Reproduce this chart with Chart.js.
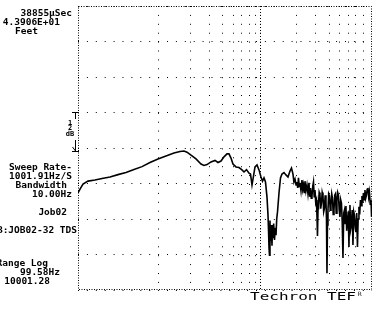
<!DOCTYPE html>
<html>
<head>
<meta charset="utf-8">
<script src="https://cdn.jsdelivr.net/npm/chart.js@4/dist/chart.umd.min.js"></script>
<style>
  html, body { margin: 0; padding: 0; background: #fff; }
</style>
</head>
<body>
<canvas id="tefChart" width="381" height="309"></canvas>
<script>
// Sweep frequency (Hz) and measured level (dB)
const freqHz = [
    99.6, 102.8, 107.7, 116.5, 130.0, 145.1, 164.5, 186.4, 211.3, 239.6,
    271.6, 307.8, 348.9, 395.6, 448.4, 493.0, 524.8, 550.1, 585.7, 633.3,
    685.0, 717.9, 752.5, 801.2, 853.0, 894.1, 937.2, 982.4, 1029.7, 1062.5,
    1096.4, 1131.2, 1185.7, 1242.9, 1302.8, 1344.3, 1398.1, 1454.1, 1488.6, 1524.1,
    1560.2, 1597.4, 1648.2, 1700.7, 1754.8, 1796.5, 1839.2, 1883.1, 1927.8, 1958.2,
    1975, 1989.2, 2004.9, 2020, 2036.5, 2060, 2084.9, 2100, 2117.9, 2140,
    2168.5, 2195, 2220.0, 2245, 2272.8, 2326.8, 2381.9, 2438.5, 2516.2, 2596.5,
    2679.4, 2764.8, 2830.5, 2897.7, 2940, 2990.1, 3040, 3085.3, 3120, 3158.5,
    3195, 3233.6, 3285, 3336.6, 3375, 3416.0, 3455, 3497.2, 3550, 3608.7,
    3665, 3723.8, 3765, 3812.2, 3860, 3902.8, 3950, 3995.6, 4040, 4090.6,
    4140, 4187.8, 4220, 4254.1, 4290, 4321.4, 4370, 4424.1, 4475, 4529.3,
    4580, 4636.9, 4690, 4747.1, 4800, 4860.1, 4900, 4937.0, 4975, 5015.0,
    5070, 5134.3, 5195, 5256.3, 5320, 5381.3, 5445, 5509.2, 5575, 5640.2,
    5705, 5774.3, 5840, 5911.5, 5980, 6052.1, 6120, 6196.0, 6270, 6343.2,
    6420, 6494.0, 6570, 6648.5, 6725, 6806.5, 6890, 6968.3, 7020, 7078.6,
    7160, 7246.9, 7330, 7419.2, 7510, 7595.6, 7690, 7776.4, 7870, 7961.2,
    8050, 8150.5, 8245, 8344.5, 8440, 8542.9, 8645, 8746.0, 8850, 8954.0,
    9060, 9166.8, 9275, 9384.8, 9495, 9608.3, 9725, 9845.4, 9930, 10001
];
const levelDb = [
    32.8, 34.1, 35.8, 36.8, 37.2, 37.7, 38.2, 39.0, 39.7, 40.7,
    41.7, 43.1, 44.3, 45.3, 46.3, 46.8, 47.0, 46.6, 45.6, 44.3,
    42.6, 42.1, 42.4, 43.3, 43.8, 43.1, 43.6, 45.0, 46.0, 46.0,
    44.6, 42.6, 41.6, 41.4, 40.6, 39.9, 40.7, 39.5, 39.2, 35.5,
    38.5, 41.6, 42.3, 40.6, 38.2, 36.8, 37.9, 36.5, 31.4, 25.4,
    20.0, 14.5, 11.8, 23.5, 16.5, 22.0, 15.0, 21.5, 17.5, 22.5,
    16.9, 21.0, 18.5, 24.0, 26.4, 32.8, 37.9, 39.2, 39.7, 38.9,
    38.2, 40.2, 41.2, 39.2, 36.5, 37.5, 35.5, 36.5, 34.5, 37.9,
    35.0, 36.2, 33.5, 37.2, 34.0, 35.5, 33.0, 36.8, 33.5, 35.5,
    32.5, 36.2, 31.5, 34.5, 31.0, 31.8, 35.0, 36.5, 31.5, 33.8,
    29.5, 30.4, 25.0, 18.3, 27.5, 28.7, 33.0, 32.1, 27.5, 29.4,
    33.0, 31.8, 26.5, 27.7, 32.0, 29.7, 24.0, 5.7, 22.0, 27.0,
    32.5, 31.8, 27.0, 28.7, 32.5, 31.1, 25.5, 27.0, 32.0, 32.5,
    26.0, 30.4, 33.0, 32.1, 27.0, 24.7, 30.5, 29.4, 23.0, 10.8,
    26.0, 27.0, 22.5, 28.4, 20.0, 23.0, 26.5, 14.5, 24.0, 28.7,
    20.5, 22.0, 27.0, 15.2, 26.5, 25.4, 21.0, 19.6, 26.0, 14.5,
    24.0, 28.1, 25.5, 30.4, 28.5, 31.8, 29.5, 32.8, 30.5, 33.8,
    31.0, 32.1, 34.0, 34.5, 31.5, 33.1, 29.0, 30.4, 25.0, 26.4
];

// Vertical grid lines (Hz) and horizontal grid lines (dB)
const gridFreqs = [350, 585, 780, 960, 1140, 1300, 1455, 1600, 1730, 3040, 4140, 5120, 5990, 6900, 7780, 8730];
const markerFreq = 1730;
const levelTicks = [0, 12, 24, 36, 48, 60, 72, 84, 96];

// Frame, marker line and the texts of the plot
const tefPlugin = {
    id: 'tefFrame',
    beforeDatasetsDraw(chart) {
        const ctx = chart.ctx;
        const a = chart.chartArea;
        ctx.save();
        ctx.strokeStyle = '#000';
        ctx.lineWidth = 1;
        ctx.setLineDash([1, 1.5]);
        ctx.strokeRect(a.left + 0.5, a.top + 0.5, a.right - a.left - 1, a.bottom - a.top - 1);
        // denser dotted line
        const mx = Math.round(chart.scales.x.getPixelForValue(markerFreq)) + 0.5;
        ctx.setLineDash([1, 2]);
        ctx.beginPath();
        ctx.moveTo(mx, a.top);
        ctx.lineTo(mx, a.bottom);
        ctx.stroke();
        ctx.restore();
    },
    afterDraw(chart) {
        const ctx = chart.ctx;
        ctx.save();
        ctx.fillStyle = '#000';
        ctx.font = 'bold 9.5px "DejaVu Sans Mono"';
        ctx.textBaseline = 'middle';
        ctx.textAlign = 'right';
        ctx.fillText('38855\u00b5Sec', 72, 14);
        ctx.fillText('4.3906E+01', 60, 23);
        ctx.textAlign = 'left';
        ctx.fillText('Feet', 15, 32);
        ctx.textAlign = 'right';
        ctx.fillText('Sweep Rate-', 72, 168);
        ctx.fillText('1001.91Hz/S', 72, 177);
        ctx.fillText('Bandwidth', 67, 186);
        ctx.fillText('10.00Hz', 72, 195);
        ctx.fillText('Job02', 67, 213);
        ctx.fillText('B:JOB02-32 TDS', 77, 231);
        ctx.fillText('Range Log', 48, 264);
        ctx.fillText('99.58Hz', 60, 273);
        ctx.fillText('10001.28', 50, 282);

        // 12 dB scale marker
        ctx.strokeStyle = '#000';
        ctx.lineWidth = 1;
        ctx.beginPath();
        ctx.moveTo(72, 112.5); ctx.lineTo(79, 112.5);
        ctx.moveTo(75.5, 112); ctx.lineTo(75.5, 119);
        ctx.moveTo(75.5, 140); ctx.lineTo(75.5, 151);
        ctx.moveTo(72, 151.5); ctx.lineTo(79, 151.5);
        ctx.moveTo(72.5, 147); ctx.lineTo(75.5, 151);
        ctx.stroke();
        ctx.font = 'bold 7px "DejaVu Sans Mono"';
        ctx.textAlign = 'center';
        ctx.fillText('1', 70, 123);
        ctx.fillText('2', 70, 128);
        ctx.fillText('dB', 70, 134);

        // maker mark
        ctx.font = '10px "DejaVu Sans Mono"';
        ctx.textAlign = 'left';
        ctx.translate(250, 297);
        ctx.scale(1.6, 1);
        ctx.fillText('Techron TEF', 0, 0);
        ctx.setTransform(1, 0, 0, 1, 0, 0);
        ctx.font = '6px "DejaVu Sans Mono"';
        ctx.fillText('R', 358, 294);
        ctx.restore();
    }
};

const tefData = {
    datasets: [{
        data: freqHz.map((f, i) => ({ x: f, y: levelDb[i] })),
        borderColor: '#000',
        borderWidth: 1.6,
        pointRadius: 0,
        fill: false,
        tension: 0
    }]
};

const tefConfig = {
    type: 'line',
    data: tefData,
    options: {
        responsive: false,
        animation: false,
        devicePixelRatio: 1,
        layout: { padding: { left: 78, right: 9, top: 6, bottom: 19 } },
        scales: {
            x: {
                type: 'logarithmic',
                min: 99.58,
                max: 10001.28,
                afterBuildTicks: (scale) => { scale.ticks = gridFreqs.map(v => ({ value: v })); },
                ticks: { display: false },
                grid: { color: '#000', lineWidth: 1, drawTicks: false },
                border: { display: false, dash: [1, 7.9] }
            },
            y: {
                min: 0,
                max: 96,
                afterBuildTicks: (scale) => { scale.ticks = levelTicks.map(v => ({ value: v })); },
                ticks: { display: false },
                grid: { color: '#000', lineWidth: 1, drawTicks: false },
                border: { display: false, dash: [1, 7.9] }
            }
        },
        plugins: {
            legend: { display: false },
            tooltip: { enabled: false }
        }
    },
    plugins: [tefPlugin]
};

const tefChart = new Chart(document.getElementById('tefChart'), tefConfig);
</script>
</body>
</html>
